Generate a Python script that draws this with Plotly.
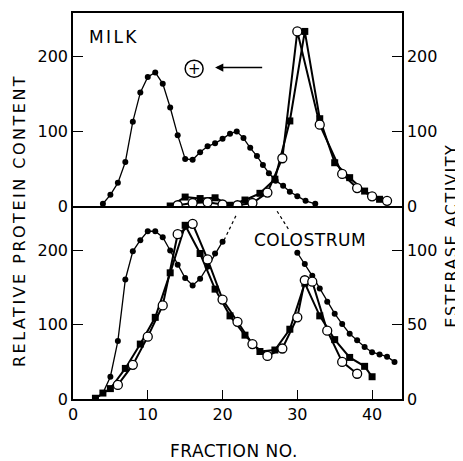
import plotly.graph_objects as go

# ---------------- data ----------------
# MILK panel: relative protein content (filled circles, left axis)
milk_prot_x = [4, 5, 6, 7, 8, 9, 10, 11, 12, 13, 14, 15, 16, 17, 18, 19, 20, 21, 21.9,
               22.8, 23.7, 24.6, 25.4, 26.2, 27.1, 28.1, 29.0, 30.0, 31.1, 32.4]
milk_prot_y = [3, 15, 31, 59, 113, 152, 173, 179, 164, 132, 95, 63, 62, 72, 80, 84, 90, 97, 100,
               91, 78, 67, 55, 44, 34, 27, 19, 13, 7, 3]
# MILK panel: esterase activity, filled squares and open circles (right axis)
milk_sq_x = [13, 15, 17, 19, 21, 23, 25, 27, 29, 31, 33, 35, 37, 39, 41]
milk_sq_y = [0, 12, 10, 11, 1, 8, 17, 36, 114, 234, 117, 58, 38, 20, 9]
milk_oc_x = [14, 16, 18, 20, 22, 24, 26, 28, 30, 33, 36, 38, 40, 42]
milk_oc_y = [1, 4, 5, 2, 1, 4, 18, 64, 234, 109, 43, 24, 13, 7]

# COLOSTRUM panel: relative protein content (filled circles, left axis; off scale 21-29)
col_prot_x = [3, 4, 5, 6, 7, 8, 9, 10, 11, 12, 13, 14, 15, 16, 17, 18, 19, 20,
              30, 31, 32, 33, 34, 35, 36, 37, 38, 39, 40, 41, 42, 43]
col_prot_y = [0, 8, 30, 78, 161, 199, 214, 226, 226, 218, 200, 181, 163, 153, 162, 178, 196, 212,
              197, 182, 166, 149, 131, 115, 101, 88, 79, 70, 63, 60, 57, 50]
# dotted continuations of the off-scale part
col_dot1_x = [20.2, 21.8]
col_dot1_y = [214, 247]
col_dot2_x = [27.3, 28.8]
col_dot2_y = [253, 229]
# COLOSTRUM panel: esterase activity (right axis)
col_sq_x = [3, 4, 5, 7, 9, 11, 13, 15, 17, 19, 21, 23, 25, 27, 29, 31, 33, 35, 37, 39, 40]
col_sq_y = [0.5, 4, 7, 20.6, 37, 55, 85, 117, 98, 74, 56, 43, 32, 33, 47, 78, 56, 40, 28, 22, 15]
col_oc_x = [6, 8, 10, 12, 14, 16, 18, 20, 22, 24, 26, 28, 30, 31, 32, 34, 36, 38]
col_oc_y = [9.5, 23, 42, 63, 111, 118, 94, 67, 52, 37, 29, 34, 55, 80, 79, 46, 25, 17]

x_ticks = [0, 10, 20, 30, 40]
left_ticks = [0, 100, 200]
col_right_ticks = [0, 50, 100]

FONT = "DejaVu Sans"
BLACK = "black"


def with_gaps(xs, ys, maxgap=1.5):
    ox, oy = [], []
    for i, (a, b) in enumerate(zip(xs, ys)):
        if i > 0 and a - xs[i - 1] > maxgap:
            ox.append(None)
            oy.append(None)
        ox.append(a)
        oy.append(b)
    return ox, oy


fig = go.Figure()

# ---- MILK (top) ----
fig.add_trace(go.Scatter(x=milk_prot_x, y=milk_prot_y, xaxis="x2", yaxis="y2", mode="lines+markers",
                         line=dict(color=BLACK, width=1.3),
                         marker=dict(symbol="circle", size=6, color=BLACK)))
fig.add_trace(go.Scatter(x=milk_sq_x, y=milk_sq_y, xaxis="x2", yaxis="y4", mode="lines+markers",
                         line=dict(color=BLACK, width=2),
                         marker=dict(symbol="square", size=7, color=BLACK)))
fig.add_trace(go.Scatter(x=milk_oc_x, y=milk_oc_y, xaxis="x2", yaxis="y4", mode="lines+markers",
                         line=dict(color=BLACK, width=2),
                         marker=dict(symbol="circle", size=9, color="white",
                                     line=dict(color=BLACK, width=1.3))))

# ---- COLOSTRUM (bottom) ----
cpx, cpy = with_gaps(col_prot_x, col_prot_y)
fig.add_trace(go.Scatter(x=cpx, y=cpy, xaxis="x", yaxis="y", mode="lines+markers",
                         connectgaps=False,
                         line=dict(color=BLACK, width=1.3),
                         marker=dict(symbol="circle", size=6, color=BLACK)))
for dx, dy in ((col_dot1_x, col_dot1_y), (col_dot2_x, col_dot2_y)):
    fig.add_trace(go.Scatter(x=dx, y=dy, xaxis="x", yaxis="y", mode="lines",
                             line=dict(color=BLACK, width=1.2, dash="dot")))
fig.add_trace(go.Scatter(x=col_sq_x, y=col_sq_y, xaxis="x", yaxis="y3", mode="lines+markers",
                         line=dict(color=BLACK, width=2),
                         marker=dict(symbol="square", size=7, color=BLACK)))
fig.add_trace(go.Scatter(x=col_oc_x, y=col_oc_y, xaxis="x", yaxis="y3", mode="lines+markers",
                         line=dict(color=BLACK, width=2),
                         marker=dict(symbol="circle", size=9, color="white",
                                     line=dict(color=BLACK, width=1.3))))

axis_common = dict(showgrid=False, zeroline=False, showline=True, linecolor=BLACK, linewidth=1.5,
                   ticks="inside", ticklen=10, tickwidth=1.3, tickcolor=BLACK,
                   tickfont=dict(family=FONT, size=16, color=BLACK))

# the page body adds an 8px margin, so the figure is 8px smaller and margins shifted
fig.update_layout(
    width=455, height=453,
    margin=dict(l=65, r=61, t=3, b=62),
    paper_bgcolor="white", plot_bgcolor="white",
    showlegend=False,
    xaxis=dict(axis_common, domain=[0, 1], anchor="y", range=[0, 44], tickvals=x_ticks, ticklen=9),
    xaxis2=dict(axis_common, domain=[0, 1], anchor="y2", range=[0, 44], matches="x",
                showticklabels=False, ticks="", mirror=True),
    yaxis=dict(axis_common, domain=[0, 0.5], anchor="x", range=[0, 260], tickvals=left_ticks),
    yaxis2=dict(axis_common, domain=[0.5, 1], anchor="x2", range=[0, 258.7], tickvals=left_ticks),
    yaxis3=dict(axis_common, overlaying="y", side="right", anchor="x", range=[0, 130],
                tickvals=col_right_ticks),
    yaxis4=dict(axis_common, overlaying="y2", side="right", anchor="x2", range=[0, 258.7],
                tickvals=left_ticks),
)

# circled plus with arrow (electrophoresis direction)
fig.add_shape(type="circle", xref="x2", yref="y2", x0=16.2 - 1.2, x1=16.2 + 1.2,
              y0=184 - 11.5, y1=184 + 11.5, line=dict(color=BLACK, width=1.5))

annos = [
    dict(text="+", x=16.2, y=184, xref="x2", yref="y2", showarrow=False,
         font=dict(family=FONT, size=15, color=BLACK)),
    dict(text="", x=19.0, y=185.5, xref="x2", yref="y2", ax=25.5, ay=185.5,
         axref="x2", ayref="y2", showarrow=True, arrowhead=2, arrowsize=1.1,
         arrowwidth=1.5, arrowcolor=BLACK),
    dict(text='<span style="letter-spacing:2.4px">MILK</span>', x=0.043, y=0.938,
         xref="paper", yref="paper", xanchor="left", yanchor="middle", showarrow=False,
         font=dict(family=FONT, size=17, color=BLACK)),
    dict(text='<span style="letter-spacing:0.5px">COLOSTRUM</span>', x=0.72, y=0.413,
         xref="paper", yref="paper", xanchor="center", yanchor="middle", showarrow=False,
         font=dict(family=FONT, size=17, color=BLACK)),
    dict(text='<span style="letter-spacing:2.5px">RELATIVE PROTEIN CONTENT</span>',
         x=-0.164, y=0.461, xref="paper", yref="paper", textangle=-90,
         xanchor="center", yanchor="middle", showarrow=False,
         font=dict(family=FONT, size=16, color=BLACK)),
    dict(text='<span style="letter-spacing:1.5px">ESTERASE ACTIVITY</span>',
         x=1.152, y=0.423, xref="paper", yref="paper", textangle=-90,
         xanchor="center", yanchor="middle", showarrow=False,
         font=dict(family=FONT, size=16, color=BLACK)),
    dict(text='<span style="letter-spacing:0.5px">FRACTION NO.</span>', x=0.488, y=-0.134,
         xref="paper", yref="paper", xanchor="center", yanchor="middle", showarrow=False,
         font=dict(family=FONT, size=17, color=BLACK)),
]
fig.update_layout(annotations=annos)

fig.write_html("out.html")
